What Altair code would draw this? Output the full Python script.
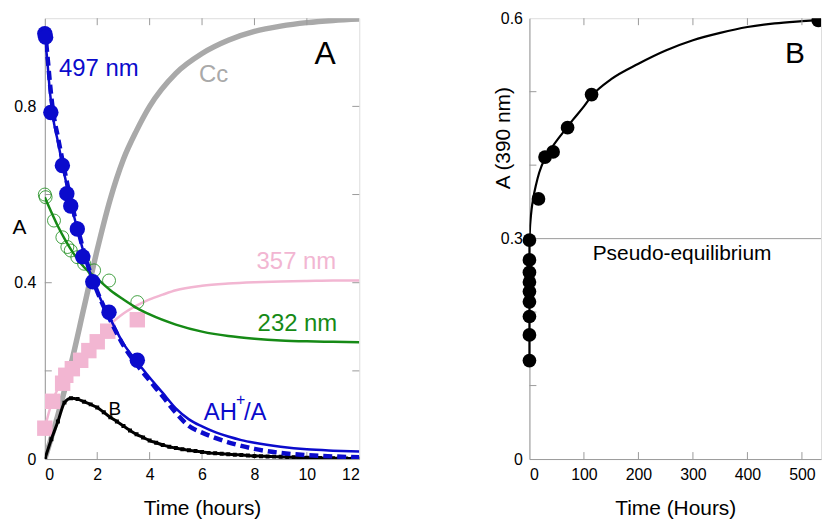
import altair as alt
import pandas as pd

# ---------------- data: panel A (time in hours) ----------------
# 497 nm, measured (filled blue circles)
a497_t = [0, 0.03, 0.23, 0.67, 0.84, 0.99, 1.24, 1.45, 1.83, 2.45, 3.53]
a497_v = [0.965, 0.957, 0.786, 0.666, 0.602, 0.574, 0.522, 0.459, 0.402, 0.333, 0.224]
# 232 nm, measured (open green circles)
a232_t = [0, 0.03, 0.35, 0.67, 0.86, 0.99, 1.24, 1.5, 1.88, 2.45, 3.53]
a232_v = [0.600, 0.594, 0.541, 0.503, 0.481, 0.473, 0.458, 0.443, 0.428, 0.405, 0.356]
# 357 nm, measured (pink squares)
a357_t = [0, 0.3, 0.68, 0.8, 1.05, 1.37, 1.68, 2.0, 2.4, 3.53]
a357_v = [0.070, 0.131, 0.172, 0.190, 0.205, 0.224, 0.246, 0.266, 0.290, 0.316]

# AH+/A fit (solid blue)
ah_t = [0, 0.1, 0.2, 0.3, 0.5, 0.75, 1.0, 1.25, 1.5, 1.75, 2.0, 2.5, 3.0, 3.5, 4.0,
        4.5, 5.0, 5.5, 6.0, 6.5, 7.0, 7.5, 8.0, 9.0, 10.0, 11.0, 12.0]
ah_v = [0.965, 0.90, 0.83, 0.78, 0.72, 0.645, 0.578, 0.52, 0.465, 0.418, 0.38, 0.318, 0.262,
        0.222, 0.185, 0.15, 0.115, 0.09, 0.074, 0.061, 0.051, 0.043, 0.037, 0.028, 0.022,
        0.019, 0.017]
# 497 nm fit (dashed blue)
d_t = [0, 0.1, 0.2, 0.3, 0.5, 0.75, 1.0, 1.25, 1.5, 1.75, 2.0, 2.5, 3.0, 3.5, 4.0,
       4.5, 5.0, 5.5, 6.0, 6.5, 7.0, 7.5, 8.0, 9.0, 10.0, 11.0, 12.0]
d_v = [0.975, 0.915, 0.85, 0.795, 0.73, 0.655, 0.585, 0.525, 0.468, 0.42, 0.38, 0.315, 0.258,
       0.215, 0.178, 0.142, 0.105, 0.075, 0.06, 0.048, 0.038, 0.03, 0.023, 0.014, 0.009,
       0.006, 0.004]
# 232 nm fit (green)
g_t = [0, 0.25, 0.5, 0.75, 1.0, 1.5, 2.0, 2.5, 3.0, 3.5, 4.0, 5.0, 6.0, 7.0, 8.0, 9.0, 10.0, 11.0, 12.0]
g_v = [0.594, 0.56, 0.528, 0.50, 0.475, 0.435, 0.409, 0.383, 0.362, 0.343, 0.328, 0.305,
       0.289, 0.279, 0.273, 0.269, 0.267, 0.266, 0.265]
# 357 nm fit (pink)
p_t = [0, 0.25, 0.5, 0.75, 1.0, 1.5, 2.0, 2.5, 3.0, 3.5, 4.0, 4.5, 5.0, 6.0, 7.0, 8.0, 9.0, 10.0, 11.0, 12.0]
p_v = [0.07, 0.125, 0.16, 0.185, 0.205, 0.238, 0.268, 0.305, 0.33, 0.348, 0.362, 0.373, 0.383,
       0.393, 0.398, 0.401, 0.403, 0.404, 0.405, 0.405]
# Cc (thick gray)
c_t = [0, 0.5, 1.0, 1.5, 2.0, 2.5, 3.0, 3.5, 4.0, 5.0, 6.0, 7.0, 8.0, 9.0, 10.0, 11.0, 12.0]
c_v = [0.0, 0.10, 0.215, 0.345, 0.475, 0.59, 0.68, 0.745, 0.80, 0.875, 0.92, 0.95, 0.97,
       0.982, 0.99, 0.995, 0.998]
# B (black, square markers)
b_t = [0, 0.25, 0.5, 0.75, 1.0, 1.25, 1.5, 1.75, 2.0, 2.25, 2.5, 2.75, 3.0, 3.25, 3.5, 3.75,
       4.0, 4.25, 4.5, 4.75, 5.0, 5.25, 5.5, 5.75, 6.0, 6.25, 6.5, 6.75, 7.0, 7.25, 7.5, 7.75,
       8.0, 8.25, 8.5, 8.75, 9.0, 9.25, 9.5, 9.75, 10.0, 10.25, 10.5, 10.75, 11.0, 11.25,
       11.5, 11.75, 12.0]
b_v = [0.0, 0.045, 0.085, 0.128, 0.138, 0.136, 0.13, 0.124, 0.117, 0.106, 0.095, 0.085, 0.075,
       0.065, 0.056, 0.049, 0.042, 0.037, 0.032, 0.028, 0.025, 0.022, 0.02, 0.018, 0.016,
       0.014, 0.013, 0.012, 0.011, 0.01, 0.009, 0.008, 0.007, 0.0065, 0.006, 0.0055, 0.005,
       0.0045, 0.004, 0.0035, 0.003, 0.003, 0.0025, 0.002, 0.002, 0.002, 0.0015, 0.0015, 0.001]

# labels panel A
labA_text = ["497 nm", "Cc", "357 nm", "232 nm", "AH", "/A"]
labA_t = [2.06, 6.44, 9.6, 9.64, 7.33, 7.6]
labA_v = [0.884, 0.872, 0.446, 0.307, 0.104, 0.104]

# ---------------- data: panel B (time in hours) ----------------
b390_t = [0, 0, 0, 0, 0, 0, 0, 0, 0, 16.6, 28.6, 43.4, 70, 114, 530]
b390_v = [0.298, 0.271, 0.254, 0.241, 0.228, 0.214, 0.194, 0.169, 0.134, 0.354, 0.411,
          0.418, 0.451, 0.496, 0.597]
# vertical rise at t = 0, then the fitted curve
riseB_t = [0, 0]
riseB_v = [0.134, 0.298]
fitB_t = [0, 1, 2, 4, 7, 12, 18, 29, 43, 60, 80, 100, 114, 150, 200, 250, 300, 350, 400,
          450, 500, 540]
fitB_v = [0.298, 0.315, 0.325, 0.34, 0.355, 0.373, 0.39, 0.41, 0.426, 0.443, 0.462,
          0.48, 0.494, 0.517, 0.538, 0.556, 0.57, 0.58, 0.588, 0.593, 0.596, 0.598]

# ticks
xA_labels = [0, 2, 4, 6, 8, 10, 12]
yA_labels = [0, 0.4, 0.8]
xA_minor = [2, 4, 6, 8, 10]
yA_minor = [0.2, 0.4, 0.6, 0.8]
xB_labels = [0, 100, 200, 300, 400, 500]
yB_labels = [0, 0.3, 0.6]
xB_minor = [100, 200, 300, 400, 500]
yB_minor = [0.1, 0.2, 0.4, 0.5]
pseudo_level = [0.3]

# ---------------- style ----------------
FONT = "Liberation Sans"
BLUE = "#0b0bcc"
GREEN = "#168a16"
PINK = "#f2b6d2"
GRAY = "#a9a9a9"
AXC = "#9a9a9a"

W1, H1 = 316, 443
W2, H2 = 293, 443

xA = alt.Scale(domain=[0, 12], nice=False, zero=False, padding=0)
yA = alt.Scale(domain=[0, 1.0], nice=False, padding=0)
xB = alt.Scale(domain=[0, 535], nice=False, zero=False, padding=0)
yB = alt.Scale(domain=[0, 0.6], nice=False, padding=0)

LBL = "datum.value == 0 ? '0' : format(datum.value, '.1f')"

common = dict(ticks=False, grid=False, labelFontSize=16, titleFontSize=21, domainColor=AXC,
              labelFont=FONT, titleFont=FONT, titleFontWeight="normal",
              labelColor="black", titleColor="black")
axisAx = alt.Axis(values=xA_labels, title="Time (hours)", labelPadding=8, titlePadding=15,
                  format="d", **common)
axisAy = alt.Axis(values=yA_labels, title="A", labelExpr=LBL, labelPadding=9, titleAngle=0,
                  titleX=-26, titleY=210, titleAlign="center", titleBaseline="middle", **common)
axisBx = alt.Axis(values=xB_labels, title="Time (Hours)", labelPadding=8, titlePadding=15,
                  format="d", **common)
axisBy = alt.Axis(values=yB_labels, title="A (390 nm)", labelExpr=LBL, labelPadding=7,
                  titleX=-26, titleY=120, titleAlign="center", titleBaseline="middle", **common)

XA = alt.X("t:Q", scale=xA, axis=axisAx)
YA = alt.Y("v:Q", scale=yA, axis=axisAy)
XB = alt.X("t:Q", scale=xB, axis=axisBx)
YB = alt.Y("v:Q", scale=yB, axis=axisBy)


def df(t, v):
    return pd.DataFrame({"t": t, "v": v})


# ---- Panel A ----
cc = alt.Chart(df(c_t, c_v)).mark_line(color=GRAY, strokeWidth=5.5, interpolate="monotone", clip=True).encode(x=XA, y=YA)
pinkline = alt.Chart(df(p_t, p_v)).mark_line(color=PINK, strokeWidth=2.5, interpolate="monotone", clip=True).encode(x=XA, y=YA)
pinkpts = alt.Chart(df(a357_t, a357_v)).mark_point(shape="square", filled=True, color=PINK, size=240, opacity=1).encode(x=XA, y=YA)
bline = alt.Chart(df(b_t, b_v)).mark_line(
    color="black", strokeWidth=3, interpolate="monotone", clip=True,
    point=alt.OverlayMarkDef(shape="square", filled=True, color="black", size=16, opacity=1, clip=True)).encode(x=XA, y=YA)
gline = alt.Chart(df(g_t, g_v)).mark_line(color=GREEN, strokeWidth=2.5, interpolate="monotone", clip=True).encode(x=XA, y=YA)
gpts = alt.Chart(df(a232_t, a232_v)).mark_point(shape="circle", filled=False, color=GREEN, size=170, strokeWidth=0.8, opacity=1).encode(x=XA, y=YA)
dline = alt.Chart(df(d_t, d_v)).mark_line(color=BLUE, strokeWidth=4.5, strokeDash=[9, 5], interpolate="monotone", clip=True).encode(x=XA, y=YA)
ahline = alt.Chart(df(ah_t, ah_v)).mark_line(color=BLUE, strokeWidth=2.5, interpolate="monotone", clip=True).encode(x=XA, y=YA)
bpts = alt.Chart(df(a497_t, a497_v)).mark_point(shape="circle", filled=True, color=BLUE, size=240, opacity=1).encode(x=XA, y=YA)

labdf = pd.DataFrame({"t": labA_t, "v": labA_v, "s": labA_text})
labcolors = alt.Scale(domain=labA_text, range=[BLUE, GRAY, PINK, GREEN, BLUE, BLUE])
lab_main = alt.Chart(labdf[labdf.s.isin(["497 nm", "Cc", "357 nm", "232 nm"])]).mark_text(
    font=FONT, fontSize=24, align="center", baseline="middle").encode(
    x=XA, y=YA, text="s:N", color=alt.Color("s:N", scale=labcolors, legend=None))
lab_ah = alt.Chart(labdf[labdf.s == "AH"]).mark_text(font=FONT, fontSize=24, align="right", baseline="middle", color=BLUE).encode(x=XA, y=YA, text="s:N")
lab_a2 = alt.Chart(labdf[labdf.s == "/A"]).mark_text(font=FONT, fontSize=24, align="left", baseline="middle", color=BLUE).encode(x=XA, y=YA, text="s:N")
lab_plus = alt.Chart(pd.DataFrame({"t": [7.47], "v": [0.133], "s": ["+"]})).mark_text(font=FONT, fontSize=16, align="center", baseline="middle", color=BLUE).encode(x=XA, y=YA, text="s:N")
lab_B = alt.Chart(pd.DataFrame({"t": [2.67], "v": [0.114], "s": ["B"]})).mark_text(font=FONT, fontSize=19, align="center", baseline="middle", color="black").encode(x=XA, y=YA, text="s:N")
lab_bigA = alt.Chart(pd.DataFrame({"t": [10.7], "v": [0.918], "s": ["A"]})).mark_text(font=FONT, fontSize=32, align="center", baseline="middle", color="black").encode(x=XA, y=YA, text="s:N")

tA_left = alt.Chart(pd.DataFrame({"v": yA_minor})).mark_rule(color=AXC).encode(y=YA, x=alt.value(0), x2=alt.value(7))
tA_right = alt.Chart(pd.DataFrame({"v": yA_minor})).mark_rule(color=AXC).encode(y=YA, x=alt.value(W1 - 7), x2=alt.value(W1))
tA_top = alt.Chart(pd.DataFrame({"t": xA_minor})).mark_rule(color=AXC).encode(x=XA, y=alt.value(0), y2=alt.value(7))
tA_bot = alt.Chart(pd.DataFrame({"t": xA_minor})).mark_rule(color=AXC).encode(x=XA, y=alt.value(H1 - 7), y2=alt.value(H1))

panelA = alt.layer(cc, tA_left, tA_right, tA_top, tA_bot, pinkline, pinkpts, bline, gline, gpts,
                   dline, ahline, bpts, lab_main, lab_ah, lab_a2, lab_plus, lab_B, lab_bigA
                   ).properties(width=W1, height=H1)

# ---- Panel B ----
pseudo = alt.Chart(pd.DataFrame({"v": pseudo_level})).mark_rule(color=AXC, strokeWidth=1).encode(
    y=YB, x=alt.value(0), x2=alt.value(W2))
riseB = alt.Chart(df(riseB_t, riseB_v)).mark_line(color="black", strokeWidth=2.2).encode(x=XB, y=YB)
fitB = alt.Chart(df(fitB_t, fitB_v)).mark_line(color="black", strokeWidth=2.2, interpolate="monotone", clip=True).encode(x=XB, y=YB)
ptsB = alt.Chart(df(b390_t, b390_v)).transform_filter("datum.t < 500").mark_point(
    shape="circle", filled=True, color="black", size=190, opacity=1).encode(x=XB, y=YB)
ptsB_end = alt.Chart(df(b390_t, b390_v)).transform_filter("datum.t >= 500").mark_point(
    shape="circle", filled=True, color="black", size=190, opacity=1, clip=True).encode(x=XB, y=YB)
tB_left = alt.Chart(pd.DataFrame({"v": yB_minor})).mark_rule(color=AXC).encode(y=YB, x=alt.value(0), x2=alt.value(7))
tB_top = alt.Chart(pd.DataFrame({"t": xB_minor})).mark_rule(color=AXC).encode(x=XB, y=alt.value(0), y2=alt.value(7))
tB_bot = alt.Chart(pd.DataFrame({"t": xB_minor})).mark_rule(color=AXC).encode(x=XB, y=alt.value(H2 - 7), y2=alt.value(H2))
lab_pseudo = alt.Chart(pd.DataFrame({"t": [280], "v": [0.3], "s": ["Pseudo-equilibrium"]})).mark_text(
    font=FONT, fontSize=21, align="center", baseline="top", dy=4, color="black").encode(x=XB, y=YB, text="s:N")
lab_bigB = alt.Chart(pd.DataFrame({"t": [487], "v": [0.551], "s": ["B"]})).mark_text(
    font=FONT, fontSize=30, align="center", baseline="middle", color="black").encode(x=XB, y=YB, text="s:N")

panelB = alt.layer(fitB, riseB, pseudo, tB_left, tB_top, tB_bot, ptsB, ptsB_end, lab_pseudo, lab_bigB
                   ).properties(width=W2, height=H2)

chart = alt.hconcat(panelA, panelB, spacing=132).properties(
    padding={"left": 3, "top": 0, "right": 0, "bottom": 0}
).configure_view(stroke=AXC, strokeWidth=1).configure(font=FONT)

chart.save("out.html", embed_options={"renderer": "svg", "actions": False})
